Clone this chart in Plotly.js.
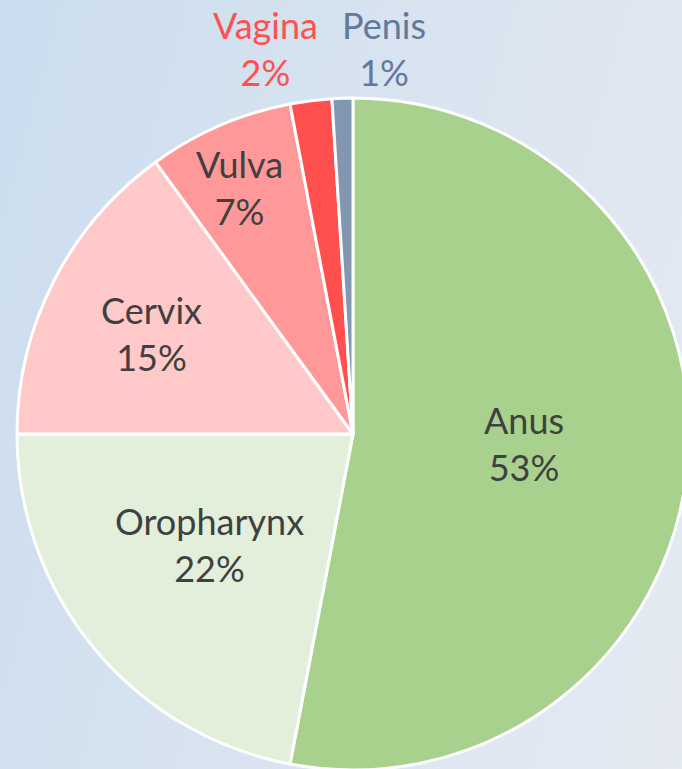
<!DOCTYPE html>
<html>
<head>
<meta charset="utf-8">
<script src="https://cdn.plot.ly/plotly-3.0.1.min.js"></script>
<style>
  html, body { margin: 0; padding: 0; width: 682px; height: 769px; overflow: hidden;
    background: linear-gradient(105deg, #cbddef 0%, #d9e4f0 50%, #e5eaf2 100%); }
  #chart { position: absolute; left: 0; top: 0; width: 704px; height: 800px; }
</style>
</head>
<body>
<div id="chart"></div>
<script>
// Data
const categories = ["Anus", "Oropharynx", "Cervix", "Vulva", "Vagina", "Penis"];
const percents = [53, 22, 15, 7, 2, 1];

// Styles
const sliceColors = ["#a9d18e", "#e2efda", "#ffc9c9", "#ff9999", "#ff4f4f", "#8497b0"];
const labelColors = ["#404040", "#404040", "#404040", "#404040", "#ff5050", "#62799d"];
// label centres in window pixels
const labelPx = [[524, 444], [209, 544], [151, 333], [239, 187], [265, 49], [384, 49]];

const W = 704, H = 800;
const M = { l: 17, r: 15, t: 98, b: 30 };
const pw = W - M.l - M.r, ph = H - M.t - M.b;
function toPaper(p) { return [(p[0] - M.l) / pw, 1 - (p[1] - M.t) / ph]; }

const annotations = categories.map((c, i) => {
  const [x, y] = toPaper(labelPx[i]);
  return {
    xref: "paper", yref: "paper", x: x, y: y,
    xanchor: "center", yanchor: "middle",
    text: c + "<br>" + percents[i] + "%",
    showarrow: false,
    font: { family: "Lato, 'DejaVu Sans', sans-serif", size: 36, color: labelColors[i] }
  };
});

const trace = {
  type: "pie",
  labels: categories,
  values: percents,
  sort: false,
  direction: "clockwise",
  rotation: 0,
  textinfo: "none",
  hoverinfo: "skip",
  marker: { colors: sliceColors, line: { color: "#ffffff", width: 3 } },
  domain: { x: [0, 1], y: [0, 1] }
};

const layout = {
  width: W, height: H,
  margin: M,
  paper_bgcolor: "rgba(0,0,0,0)",
  plot_bgcolor: "rgba(0,0,0,0)",
  showlegend: false,
  annotations: annotations
};

Plotly.newPlot("chart", [trace], layout, { displayModeBar: false, staticPlot: true });
</script>
</body>
</html>
